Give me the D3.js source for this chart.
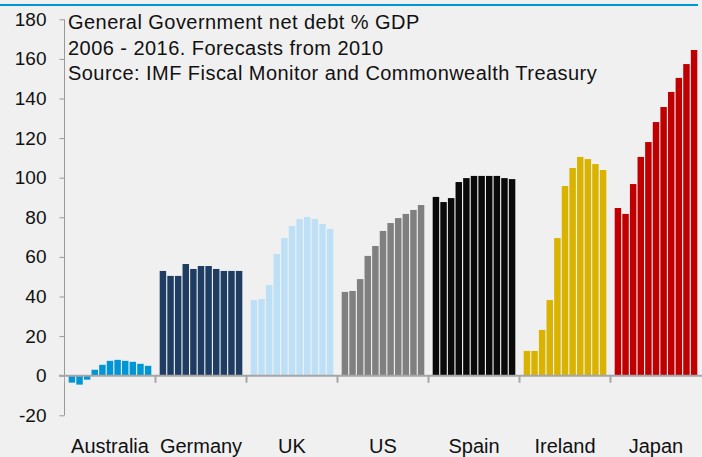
<!DOCTYPE html>
<html><head><meta charset="utf-8">
<script src="https://cdn.jsdelivr.net/npm/d3@7"></script>
<style>html,body{margin:0;padding:0;background:#f0f0f0;}svg{display:block;}</style>
</head><body>
<svg id="c" width="702" height="457"></svg>
<script>
const countries = ["Australia","Germany","UK","US","Spain","Ireland","Japan"];
const years = ["2006","2007","2008","2009","2010","2011","2012","2013","2014","2015","2016"];
const australia = [-3.5,-4.5,-2,3,5.5,7.5,8,7.5,7,6,5];
const germany = [52.9,50.4,50.4,56.4,53.9,55.4,55.4,53.9,52.9,52.9,52.9];
const uk = [38.2,38.7,45.8,61.5,69.5,75.6,79.1,80.2,79.1,76.6,74.1];
const us = [42.3,42.8,48.8,60.5,65.5,73.1,77.1,79.6,81.7,83.7,86.2];
const spain = [90.3,87.7,89.7,97.8,99.8,100.9,100.9,100.9,100.9,99.8,99.3];
const ireland = [12.5,12.5,23.1,38.2,69.5,95.8,104.9,110.5,109.4,106.9,103.9];
const japan = [84.7,81.7,96.8,110.5,118.0,128.1,135.7,143.3,150.4,157.4,164.5];
const yTicks = [-20,0,20,40,60,80,100,120,140,160,180];
const titleLines = ["General Government net debt % GDP","2006 - 2016. Forecasts from 2010","Source: IMF Fiscal Monitor and Commonwealth Treasury"];
const colors = ["#0096d6","#1f3d62","#bde0f6","#808080","#0a0a0a","#d9b300","#c00000"];

const series = [australia,germany,uk,us,spain,ireland,japan];
const svg = d3.select("#c");
const font = "'Liberation Sans', Arial, sans-serif";
svg.append("rect").attr("width",702).attr("height",457).attr("fill","#f0f0f0");
// top blue rule
svg.append("line").attr("x1",0).attr("x2",698).attr("y1",5).attr("y2",5)
  .attr("stroke","#0096d6").attr("stroke-width",2);

const y = d3.scaleLinear().domain([-20,180]).range([415.3,19.3]);
const x0 = d3.scaleBand().domain(countries).range([64.5,701.5]).padding(0);
const x1 = d3.scaleBand().domain(years).range([0,x0.bandwidth()]).paddingInner(0.15).paddingOuter(0.55);

// bars
countries.forEach((c,i)=>{
  const g = svg.append("g").attr("transform",`translate(${x0(c)},0)`);
  g.selectAll("rect").data(series[i]).join("rect")
    .attr("x",(d,j)=>x1(years[j]))
    .attr("width",x1.bandwidth())
    .attr("y",d=>y(Math.max(0,d)))
    .attr("height",d=>Math.abs(y(d)-y(0)))
    .attr("fill",colors[i]);
});

// y axis
const yAxis = d3.axisLeft(y).tickValues(yTicks).tickSize(5).tickPadding(13).tickFormat(d=>String(d));
const ya = svg.append("g").attr("transform","translate(64.5,0)").call(yAxis);
ya.select(".domain").attr("stroke","#999").attr("d","M0,19.3V415.3");
ya.selectAll(".tick line").attr("stroke","#999");
ya.selectAll("text").attr("font-family",font).attr("font-size",19).attr("fill","#111");

// x axis
const xa = svg.append("g").attr("transform",`translate(0,${y(0)})`);
xa.append("line").attr("x1",59).attr("x2",702).attr("y1",0).attr("y2",0)
  .attr("stroke","#a6a6a6").attr("stroke-width",2);
xa.selectAll("line.tk").data(countries.slice(1)).join("line").attr("class","tk")
  .attr("x1",d=>x0(d)).attr("x2",d=>x0(d)).attr("y1",0).attr("y2",7)
  .attr("stroke","#a6a6a6").attr("stroke-width",2);
xa.append("line").attr("x1",x0.range()[0]).attr("x2",x0.range()[0]).attr("y1",0).attr("y2",7)
  .attr("stroke","#a6a6a6").attr("stroke-width",1);

svg.selectAll("text.cat").data(countries).join("text").attr("class","cat")
  .attr("x",d=>x0(d)+x0.bandwidth()/2).attr("y",453)
  .attr("text-anchor","middle").attr("font-family",font).attr("font-size",20).attr("fill","#111")
  .text(d=>d);

// title
svg.selectAll("text.title").data(titleLines).join("text").attr("class","title")
  .attr("x",68).attr("y",(d,i)=>29+i*25.5)
  .attr("font-family",font).attr("font-size",20).attr("letter-spacing",0.45).attr("fill","#111")
  .text(d=>d);
</script>
</body></html>
